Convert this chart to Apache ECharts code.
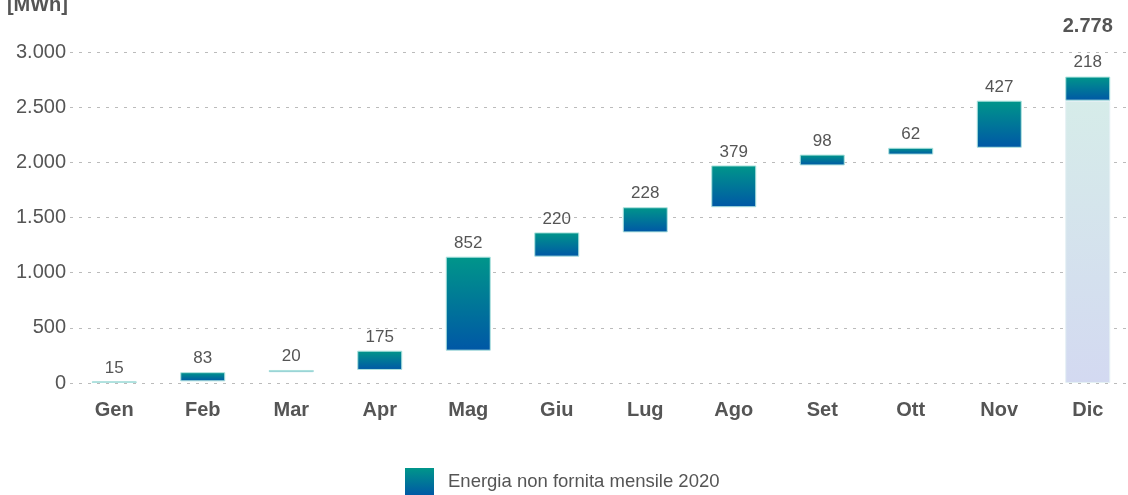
<!DOCTYPE html>
<html lang="it">
<head>
    <meta charset="UTF-8">
    <title>Energia non fornita mensile 2020</title>
    <script src="https://cdn.jsdelivr.net/npm/echarts@6/dist/echarts.min.js"></script>
    <style>
        html, body { margin: 0; padding: 0; background: #fff; }
        #main { width: 1128px; height: 495px; }
    </style>
</head>
<body>
    <div id="main"></div>
    <script type="text/javascript">
        // dati
        var mesi = ['Gen', 'Feb', 'Mar', 'Apr', 'Mag', 'Giu', 'Lug', 'Ago', 'Set', 'Ott', 'Nov', 'Dic'];
        var valori = [15, 83, 20, 175, 852, 220, 228, 379, 98, 62, 427, 218];
        var totaleAnno = 2778;
        var yTicks = [0, 500, 1000, 1500, 2000, 2500, 3000];
        var nomeSerie = 'Energia non fornita mensile 2020';

        function fmt(n) {
            return String(n).replace(/\B(?=(\d{3})+(?!\d))/g, '.');
        }

        // base trasparente (cumulata precedente)
        var base = [];
        var acc = 0;
        for (var i = 0; i < valori.length; i++) {
            base.push(acc);
            acc += valori[i];
        }

        var gradBar = new echarts.graphic.LinearGradient(0, 0, 0, 1, [
            { offset: 0, color: '#00968a' },
            { offset: 1, color: '#0057a6' }
        ]);
        var gradTot = new echarts.graphic.LinearGradient(0, 0, 0, 1, [
            { offset: 0, color: '#d6ece9' },
            { offset: 1, color: '#d3d9f1' }
        ]);

        var baseData = base.map(function (v, i) {
            if (i === base.length - 1) {
                return { value: v, itemStyle: { color: gradTot, borderColor: '#e4f0f4', borderWidth: 1 } };
            }
            return { value: v, itemStyle: { color: 'transparent' } };
        });

        var myChart = echarts.init(document.getElementById('main'));
        var option = {
            animation: false,
            textStyle: { fontFamily: 'Liberation Sans, Arial, sans-serif' },
            grid: { left: 70, top: 52, width: 1062, height: 331, containLabel: false, outerBoundsMode: 'none' },
            legend: {
                data: [nomeSerie],
                icon: 'rect',
                left: 400,
                top: 463,
                itemWidth: 29,
                itemHeight: 28,
                itemStyle: { borderWidth: 0 },
                textStyle: { fontSize: 18.5, color: '#555', padding: [2, 0, 0, 9] }
            },
            xAxis: {
                type: 'category',
                data: mesi,
                axisLine: { show: false },
                axisTick: { show: false },
                axisLabel: { fontSize: 20, fontWeight: 'bold', color: '#555', margin: 17 }
            },
            yAxis: {
                type: 'value',
                min: yTicks[0],
                max: yTicks[yTicks.length - 1],
                interval: 500,
                name: '[MWh]',
                nameLocation: 'end',
                nameGap: 37,
                nameTextStyle: { fontSize: 20, fontWeight: 'bold', color: '#555', align: 'right', padding: [0, 2, 0, 0] },
                axisLabel: { fontSize: 20, color: '#555', margin: 4, formatter: function (v) { return fmt(v); } },
                splitLine: { lineStyle: { type: [3, 6], color: '#bbb', width: 1 } }
            },
            series: [
                {
                    name: 'base',
                    type: 'bar',
                    stack: 'tot',
                    barWidth: 45,
                    data: baseData,
                    silent: true
                },
                {
                    name: nomeSerie,
                    type: 'bar',
                    stack: 'tot',
                    barWidth: 45,
                    itemStyle: { color: gradBar, borderColor: '#aee3df', borderWidth: 1 },
                    label: {
                        show: true,
                        position: 'top',
                        distance: 5,
                        fontSize: 17,
                        color: '#555',
                        formatter: function (p) {
                            if (p.dataIndex === valori.length - 1) {
                                return '{t|' + fmt(totaleAnno) + '}\n{v|' + p.value + '}';
                            }
                            return p.value;
                        },
                        rich: {
                            t: { fontSize: 20, fontWeight: 'bold', color: '#555', lineHeight: 52 },
                            v: { fontSize: 17, color: '#555', lineHeight: 19 }
                        }
                    },
                    data: valori
                }
            ]
        };
        myChart.setOption(option);
    </script>
</body>
</html>
